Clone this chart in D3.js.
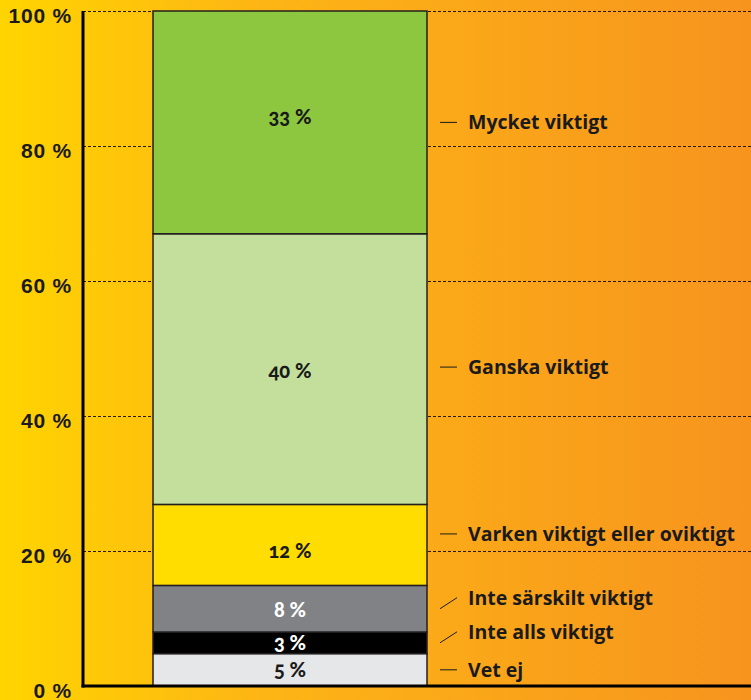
<!DOCTYPE html>
<html lang="sv">
<head>
<meta charset="UTF-8">
<title>Hur viktigt</title>
<script src="https://cdn.jsdelivr.net/npm/d3@7"></script>
<style>
    body { margin: 0; }
    svg { display: block; font-family: Lato, "Noto Sans", sans-serif; font-weight: 900; font-feature-settings: "onum"; }
    .legend text { font-family: "Open Sans", "Noto Sans", sans-serif; font-weight: 700; }
</style>
</head>
<body>
<script>
    // svarsalternativ, nerifrån och upp
    var categories = ["Vet ej", "Inte alls viktigt", "Inte särskilt viktigt", "Varken viktigt eller oviktigt", "Ganska viktigt", "Mycket viktigt"];
    var values = [4.8, 3.2, 6.9, 12.0, 40.1, 33.0];          // uppmätt höjd i procent
    var valueLabels = ["5 %", "3 %", "8 %", "12 %", "40 %", "33 %"];
    var colors = ["#e6e7e8", "#000000", "#808285", "#ffdd00", "#c4df9b", "#8dc63f"];
    var tickValues = [0, 20, 40, 60, 80, 100];
    var tickLabels = ["0 %", "20 %", "40 %", "60 %", "80 %", "100 %"];

    // legendens förskjutning i px (trånga segment flyttas upp)
    var legendShift = [0, -11, -11, -11, -2, 0];
    var legendSlant = [false, true, true, false, false, false];
    var labelShift = [0, 0, 1, 6, 2, -5];

    var W = 751, H = 700;
    var svg = d3.select("body").append("svg").attr("width", W).attr("height", H);

    var grad = svg.append("defs").append("linearGradient").attr("id", "bg")
        .attr("x1", "0%").attr("x2", "100%").attr("y1", "0%").attr("y2", "0%");
    grad.append("stop").attr("offset", "0%").attr("stop-color", "#ffd400");
    grad.append("stop").attr("offset", "35%").attr("stop-color", "#fdb515");
    grad.append("stop").attr("offset", "100%").attr("stop-color", "#f7941e");
    svg.append("rect").attr("width", W).attr("height", H).attr("fill", "url(#bg)");

    var y = d3.scaleLinear().domain([0, 100]).range([686, 11]);
    var x = d3.scaleBand().domain(["Alla"]).range([83, 497]).paddingInner(0).paddingOuter(0.2555);

    var row = { group: "Alla" };
    categories.forEach(function (c, i) { row[c] = values[i]; });
    var series = d3.stack().keys(categories)([row]);

    function mid(d) { return y((d[0][0] + d[0][1]) / 2); }

    // stödlinjer
    svg.append("g").selectAll("line")
        .data(tickValues.filter(function (d) { return d > 0; }))
        .enter().append("line")
        .attr("x1", 83).attr("x2", W)
        .attr("y1", function (d) { return y(d) + 0.5; })
        .attr("y2", function (d) { return y(d) + 0.5; })
        .attr("stroke", "#2a1a05").attr("stroke-width", 1)
        .attr("stroke-dasharray", "3,2");

    // staplar
    svg.append("g").selectAll("rect")
        .data(series).enter().append("rect")
        .attr("x", x("Alla"))
        .attr("width", x.bandwidth())
        .attr("y", function (d) { return y(d[0][1]); })
        .attr("height", function (d) { return y(d[0][0]) - y(d[0][1]); })
        .attr("fill", function (d, i) { return colors[i]; })
        .attr("stroke", "#231f20").attr("stroke-width", 1.5);

    // värden i staplarna
    svg.append("g").selectAll("text")
        .data(series).enter().append("text")
        .attr("x", x("Alla") + x.bandwidth() / 2)
        .attr("y", function (d, i) { return mid(d) + labelShift[i]; })
        .attr("dy", "0.35em")
        .attr("text-anchor", "middle")
        .attr("font-size", 20)
        .attr("fill", function (d, i) { return (i === 1 || i === 2) ? "#ffffff" : "#1a1a1a"; })
        .text(function (d, i) { return valueLabels[i]; });

    // axlar
    var yAxis = d3.axisLeft(y).tickValues(tickValues).tickSize(0).tickPadding(11)
        .tickFormat(function (d, i) { return tickLabels[i]; });
    var ga = svg.append("g").attr("transform", "translate(83,0)").call(yAxis);
    ga.select(".domain").remove();
    ga.selectAll("text").attr("font-size", 21).attr("font-family", "inherit")
        .attr("font-weight", 900).attr("fill", "#1a1a1a").attr("dy", "0.55em")
        .attr("letter-spacing", 0.8);

    svg.append("line").attr("x1", 83).attr("x2", 83).attr("y1", y(100)).attr("y2", y(0) + 1.5)
        .attr("stroke", "#000").attr("stroke-width", 3);
    svg.append("line").attr("x1", 81.5).attr("x2", W).attr("y1", y(0)).attr("y2", y(0))
        .attr("stroke", "#000").attr("stroke-width", 3);

    // legend
    var lg = svg.append("g").attr("class", "legend").selectAll("g").data(series).enter().append("g");
    lg.append("line")
        .attr("x1", 440).attr("x2", 457)
        .attr("y1", function (d, i) { return legendSlant[i] ? mid(d) : mid(d) + legendShift[i]; })
        .attr("y2", function (d, i) { return mid(d) + legendShift[i]; })
        .attr("stroke", "#1a1a1a").attr("stroke-width", 1);
    lg.append("text")
        .attr("x", 468)
        .attr("y", function (d, i) { return mid(d) + legendShift[i]; })
        .attr("dy", "0.35em")
        .attr("font-size", 19.5)
        .attr("fill", "#1a1a1a")
        .text(function (d, i) { return categories[i]; });
</script>
</body>
</html>
